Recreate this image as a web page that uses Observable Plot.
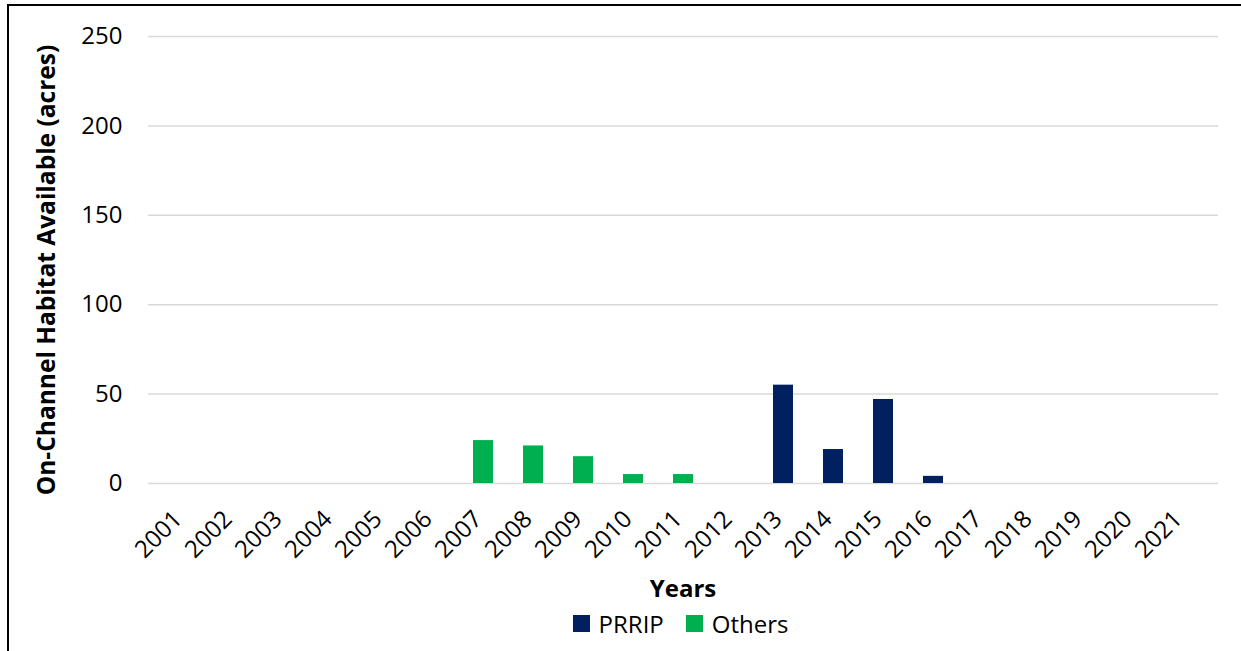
<!DOCTYPE html>
<html>
<head>
<meta charset="utf-8">
<script src="https://cdn.jsdelivr.net/npm/d3@7"></script>
<script src="https://cdn.jsdelivr.net/npm/@observablehq/plot@0.6"></script>
<style>
  body { margin: 0; background: #fff; font-family: "Open Sans", sans-serif; }
  #wrap { position: relative; width: 1241px; height: 651px; overflow: hidden; }
  #frame { position: absolute; left: 7px; top: 4px; width: 1400px; height: 800px; border-left: 2.5px solid #000; border-top: 2.5px solid #000; pointer-events: none; }
  #title-x { text-align: center; font-weight: bold; font-size: 24px; height: 30px; line-height: 30px; margin-top: 3px; color: #000; padding-left: 125px; }
  #legend { display: flex; justify-content: center; align-items: center; height: 40px; font-size: 24px; color: #000; padding-left: 120px; }
  .item { display: flex; align-items: center; margin: 0 11px; }
  .sw { width: 17px; height: 17px; display: inline-block; margin-right: 9px; }
</style>
</head>
<body>
<div id="wrap">
  <div id="chart"></div>
  <div id="title-x">Years</div>
  <div id="legend"></div>
  <div id="frame"></div>
</div>
<script>
const years = ["2001","2002","2003","2004","2005","2006","2007","2008","2009","2010","2011","2012","2013","2014","2015","2016","2017","2018","2019","2020","2021"];
const prrip  = [0,0,0,0,0,0,0,0,0,0,0,0,55,19,47,4,0,0,0,0,0];
const others = [0,0,0,0,0,0,24,21,15,5,5,0,0,0,0,0,0,0,0,0,0];
const seriesNames = ["PRRIP", "Others"];
const seriesColors = ["#002060", "#00B050"];
const yTicks = [0, 50, 100, 150, 200, 250];
const yTitle = "On-Channel Habitat Available (acres)";

const rows = [];
years.forEach((y, i) => {
  if (prrip[i] > 0) rows.push({year: y, series: "PRRIP", value: prrip[i]});
  if (others[i] > 0) rows.push({year: y, series: "Others", value: others[i]});
});

const font = "'Open Sans', sans-serif";

const chart = Plot.plot({
  width: 1241,
  height: 570,
  marginTop: 36,
  marginBottom: 87,
  marginLeft: 148,
  marginRight: 23,
  style: { fontFamily: font, fontSize: "24px", background: "#fff", color: "#000", overflow: "visible" },
  x: { domain: years, paddingInner: 0.6, paddingOuter: 0.3, axis: null },
  y: { domain: [0, 250], axis: null },
  color: { domain: seriesNames, range: seriesColors },
  marks: [
    Plot.ruleY(yTicks, { stroke: "#d9d9d9", strokeWidth: 1.5 }),
    Plot.barY(rows, { x: "year", y: "value", fill: "series" }),
    Plot.axisY(yTicks, { tickSize: 0, tickPadding: 26, label: null, fontSize: 24 }),
    Plot.text(years, { x: d => d, frameAnchor: "bottom", dy: 25, dx: -12, rotate: -45, textAnchor: "end", lineAnchor: "top", fontSize: 24, fill: "#000" }),
    Plot.text([yTitle], { frameAnchor: "left", dx: -101, dy: 10, rotate: -90, textAnchor: "middle", lineAnchor: "middle", fontWeight: "bold", fontSize: 24.5, fill: "#000" })
  ]
});
document.getElementById("chart").appendChild(chart);

const legend = document.getElementById("legend");
seriesNames.forEach((n, i) => {
  const item = document.createElement("span");
  item.className = "item";
  const sw = document.createElement("span");
  sw.className = "sw";
  sw.style.background = seriesColors[i];
  item.appendChild(sw);
  item.appendChild(document.createTextNode(n));
  legend.appendChild(item);
});
</script>
</body>
</html>
